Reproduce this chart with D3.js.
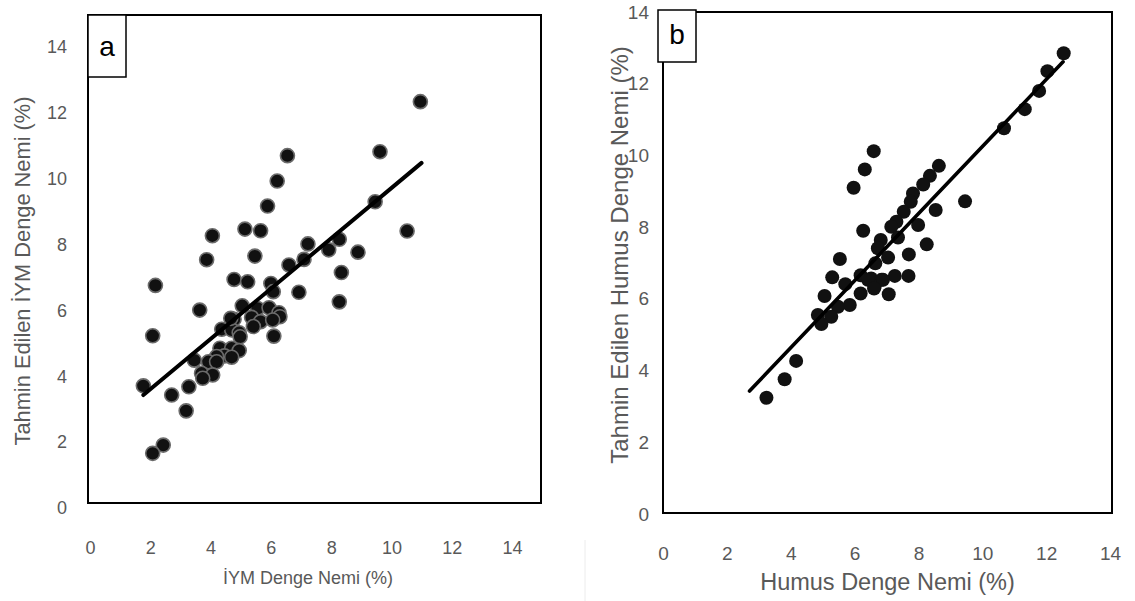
<!DOCTYPE html>
<html><head><meta charset="utf-8">
<script src="https://cdn.jsdelivr.net/npm/d3@7"></script>
<style>
html,body{margin:0;padding:0;background:#fff;}
svg{display:block;}
</style></head>
<body>
<svg id="chart" width="1135" height="601"></svg>
<script>
// ---- data ----
const ticks = [0, 2, 4, 6, 8, 10, 12, 14];

// Panel a: İYM (measured x, predicted y)
const iymMeasured = [10.96,9.62,6.55,6.21,5.89,9.46,4.06,5.14,5.66,10.52,7.23,8.27,7.92,8.89,3.87,5.47,7.10,6.60,8.34,2.17,4.78,5.23,6.00,6.08,6.93,8.27,3.64,5.05,5.56,5.94,6.27,6.30,4.78,5.36,5.66,6.06,5.42,4.37,4.70,4.95,4.98,6.10,2.08,4.31,4.70,4.95,4.46,4.70,4.20,3.46,3.93,4.20,3.70,4.07,3.74,1.77,2.71,3.28,3.19,2.43,2.08,4.67];
const iymPredicted = [12.34,10.82,10.70,9.93,9.17,9.30,8.27,8.47,8.42,8.41,8.02,8.16,7.84,7.77,7.54,7.65,7.55,7.38,7.15,6.76,6.94,6.87,6.82,6.57,6.55,6.26,6.01,6.14,6.06,6.08,5.93,5.81,5.73,5.79,5.66,5.71,5.51,5.43,5.41,5.32,5.20,5.22,5.23,4.85,4.85,4.78,4.62,4.58,4.60,4.49,4.44,4.44,4.09,4.04,3.94,3.71,3.43,3.68,2.95,1.91,1.66,5.76];
const iymFitX = [1.77, 11.0];
const iymFitY = [3.43, 10.48];

// Panel b: Humus
const humusMeasured = [12.55,12.04,11.78,11.33,10.68,6.60,6.32,5.97,8.64,8.36,8.15,7.83,7.76,9.46,8.54,7.54,7.31,7.15,7.99,6.27,7.36,6.82,6.73,8.26,5.54,7.70,7.05,6.65,5.30,6.19,7.26,7.69,5.71,6.52,6.84,6.63,6.19,7.07,5.06,5.85,5.48,4.85,5.27,4.96,4.17,3.81,3.24,6.42,6.89,6.61];
const humusPredicted = [12.85,12.35,11.80,11.29,10.76,10.12,9.61,9.10,9.71,9.43,9.19,8.94,8.71,8.72,8.48,8.43,8.15,8.01,8.06,7.90,7.71,7.64,7.41,7.52,7.11,7.24,7.15,6.99,6.60,6.66,6.64,6.64,6.41,6.57,6.53,6.34,6.15,6.13,6.08,5.83,5.78,5.55,5.50,5.30,4.27,3.76,3.24,6.53,6.53,6.29];
const humusFitX = [2.71, 12.53];
const humusFitY = [3.43, 12.61];

const panels = [
  {label:"a", xs:iymMeasured, ys:iymPredicted, fx:iymFitX, fy:iymFitY,
   xTitle:"İYM Denge Nemi (%)", yTitle:"Tahmin Edilen İYM Denge Nemi (%)",
   xr:[90,512], yr:[508,47], box:{x:88,y:15,w:453,h:488}, lab:{x:88,y:15,w:38,h:62},
   tickY:548, tickX:67, xTitleY:584, xTitleOff:7, yTitleX:30, yTitleC:271, tickFs:18, xTitleFs:18, yTitleFs:21.8,
   labFs:28, dotR:7, dotStroke:"#6b6b6b", lineW:4},
  {label:"b", xs:humusMeasured, ys:humusPredicted, fx:humusFitX, fy:humusFitY,
   xTitle:"Humus Denge Nemi (%)", yTitle:"Tahmin Edilen Humus Denge Nemi (%)",
   xr:[663,1110], yr:[514,12], box:{x:663,y:12,w:449,h:501}, lab:{x:658,y:10,w:38,h:52},
   tickY:553, tickX:649, xTitleY:590, xTitleOff:1, yTitleX:628, yTitleC:255, tickFs:19, xTitleFs:23.5, yTitleFs:24,
   labFs:28, dotR:7, dotStroke:"none", lineW:3.6}
];

const svg = d3.select("#chart");

panels.forEach(p => {
  const x = d3.scaleLinear().domain([0,14]).range(p.xr);
  const y = d3.scaleLinear().domain([0,14]).range(p.yr);
  const g = svg.append("g");

  // plot frame
  g.append("rect").attr("x",p.box.x).attr("y",p.box.y).attr("width",p.box.w).attr("height",p.box.h)
    .attr("fill","none").attr("stroke","#000").attr("stroke-width",2);

  // x tick labels
  const xAxis = d3.axisBottom(x).tickValues(ticks).tickSize(0).tickFormat(d3.format("d"));
  const xa = g.append("g").attr("transform",`translate(0,${p.tickY})`).call(xAxis);
  xa.select(".domain").remove();
  xa.selectAll("text").attr("y",0).attr("dy","0.35em").attr("fill","#595959").attr("font-size",p.tickFs)
    .attr("font-family","'Liberation Sans', Arial, sans-serif");

  // y tick labels
  const yAxis = d3.axisLeft(y).tickValues(ticks).tickSize(0).tickFormat(d3.format("d"));
  const ya = g.append("g").attr("transform",`translate(${p.tickX+3},0)`).call(yAxis);
  ya.select(".domain").remove();
  ya.selectAll("text").attr("fill","#595959").attr("font-size",p.tickFs)
    .attr("font-family","'Liberation Sans', Arial, sans-serif");

  // titles
  g.append("text").attr("x",(p.xr[0]+p.xr[1])/2 + p.xTitleOff).attr("y",p.xTitleY)
    .attr("text-anchor","middle").attr("fill","#595959").attr("font-size",p.xTitleFs)
    .attr("font-family","'Liberation Sans', Arial, sans-serif").text(p.xTitle);
  g.append("text").attr("transform",`translate(${p.yTitleX},${p.yTitleC}) rotate(-90)`)
    .attr("text-anchor","middle").attr("fill","#595959").attr("font-size",p.yTitleFs)
    .attr("font-family","'Liberation Sans', Arial, sans-serif").text(p.yTitle);

  // points
  const data = p.xs.map((v,i)=>({x:v,y:p.ys[i]}));
  g.append("g").selectAll("circle").data(data).join("circle")
    .attr("cx",d=>x(d.x)).attr("cy",d=>y(d.y)).attr("r",p.dotR)
    .attr("fill","#111").attr("stroke",p.dotStroke).attr("stroke-width",1.6);

  // fit line
  const line = d3.line().x(d=>x(d[0])).y(d=>y(d[1]));
  g.append("path").datum(p.fx.map((v,i)=>[v,p.fy[i]])).attr("d",line)
    .attr("fill","none").attr("stroke","#000").attr("stroke-width",p.lineW).attr("stroke-linecap","round");

  // label box
  g.append("rect").attr("x",p.lab.x).attr("y",p.lab.y).attr("width",p.lab.w).attr("height",p.lab.h)
    .attr("fill","#fff").attr("stroke","#000").attr("stroke-width",1.5);
  g.append("text").attr("x",p.lab.x+p.lab.w/2).attr("y",p.lab.y+p.lab.h*0.66)
    .attr("text-anchor","middle").attr("font-size",p.labFs).attr("fill","#000")
    .attr("font-family","'Liberation Sans', Arial, sans-serif").text(p.label);
});

// faint separator artifact
svg.append("line").attr("x1",585).attr("x2",585).attr("y1",540).attr("y2",601)
  .attr("stroke","#ececec").attr("stroke-width",1);
</script>
</body></html>
